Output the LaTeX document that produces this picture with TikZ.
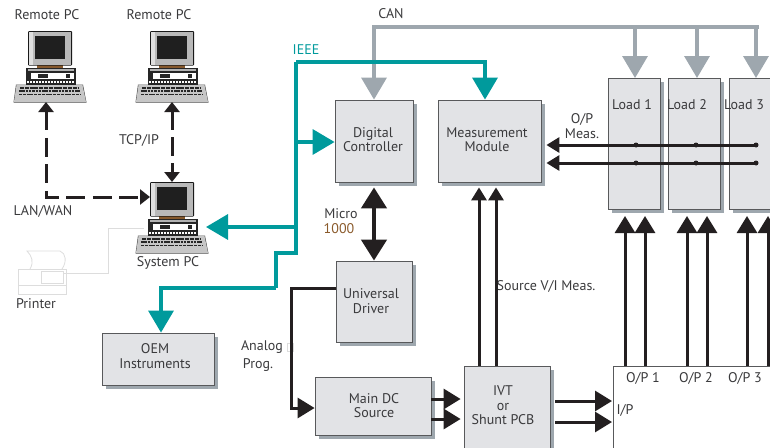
\documentclass[tikz,border=0pt]{standalone}
\usepackage{fontspec}
\setmainfont{PT Sans}
\usetikzlibrary{arrows.meta,shadows}
\definecolor{boxfill}{HTML}{E2E3E6}
\definecolor{boxline}{HTML}{58595B}
\definecolor{boxshadow}{HTML}{9EA7AE}
\definecolor{ieeeteal}{HTML}{009A9C}
\definecolor{inkblack}{HTML}{231F20}
\definecolor{labelgray}{HTML}{3A3A3C}
\definecolor{microbrown}{HTML}{8A5A2B}
\definecolor{faintgray}{HTML}{DDDDDD}
\tikzset{
    box/.style={draw=boxline, line width=0.8pt, fill=boxfill, align=center, inner sep=0pt,
        drop shadow={shadow xshift=4pt, shadow yshift=-4pt, fill=boxshadow, opacity=1}},
    txt/.style={text=labelgray, font=\fontsize{14}{14.5}\selectfont, align=center, inner sep=0pt},
    canbus/.style={draw=boxshadow, line width=3.4pt, -{Triangle[width=25pt,length=22pt]}},
    ieeebus/.style={draw=ieeeteal, line width=3.4pt, -{Triangle[width=25pt,length=22pt]}},
    ieeeline/.style={draw=ieeeteal, line width=3.4pt},
    sigline/.style={draw=inkblack, line width=3pt, -{Triangle[width=20pt,length=17pt]}},
    measline/.style={draw=inkblack, line width=3pt, -{Triangle[width=15pt,length=13pt]}},
    dashline/.style={draw=inkblack, line width=3pt, dash pattern=on 19pt off 7.5pt,
        {Triangle[width=15pt,length=10pt]}-{Triangle[width=15pt,length=10pt]}},
    junction/.style={circle, fill=inkblack, inner sep=0pt, minimum size=5pt},
    computer/.pic={
        % keyboard, base, monitor
        \fill[black!70] (-14.5,71.5) -- (-12,53.5) -- (55,53.5) -- (58.5,71.5) -- cycle;
        \fill[gray!45] (-14,70.8) -- (-11.5,54.2) -- (54.5,54.2) -- (58,70.8) -- cycle;
        \draw[black!85, line width=1.3pt, dash pattern=on 4pt off .8pt] (-8,57) -- (50,57);
        \draw[black!85, line width=1.3pt, dash pattern=on 2.5pt off .8pt] (-9,60) -- (52,60);
        \draw[black!85, line width=1.3pt, dash pattern=on 3pt off .8pt] (-9,63.5) -- (53,63.5);
        \fill[black!85] (-2,37) rectangle (48,54);
        \fill[gray!60] (0,37.8) rectangle (46,40);
        \fill[white] (3,42) rectangle (46,48);
        \fill[black!85] (10,43) rectangle (20,47);
        \fill[black!85] (38,43) rectangle (42,47);
        \draw[white, line width=1.2pt, dash pattern=on 1.5pt off 1.5pt] (-1,51) -- (47,51);
        \fill[brown!70!black] (9,34) rectangle (35,37);
        \fill[black!90, rounded corners=1pt] (0,0) rectangle (44,34.5);
        \fill[gray!55] (1,1) rectangle (43,33.5);
        \fill[gray!25] (1,1) rectangle (5,33.5);
        \fill[black!88] (7,5) rectangle (37,28);
        \coordinate (-top) at (22,0);
        \coordinate (-left) at (0,15);
        \coordinate (-bottom) at (22,71);
    }
}
\begin{document}
\begin{tikzpicture}[x=1pt, y=-1pt]
    \useasboundingbox (0,0) rectangle (770,447);
    \clip (0,0) rectangle (770,447);

    \pic (pc1) at (28,31) {computer};
    \pic (pc2) at (150,31) {computer};
    \pic (sys) at (150,182) {computer};

    % printer
    \draw[faintgray, line width=0.8pt] (18,269) rectangle (66,294);
    \draw[faintgray, line width=0.8pt] (41,271) rectangle (63,283);
    \draw[faintgray, line width=0.8pt] (18,285) -- (66,285);
    \draw[faintgray, line width=0.8pt] (30,269) .. controls (34,262) and (32,256) .. (27,251) -- (60,251) .. controls (66,253) and (67,262) .. (62,269);
    \coordinate (printerport) at (64,273);
    \coordinate (sysport) at (144,228);
    \draw[faintgray, line width=0.8pt] (printerport) -| (108,228) -- (sysport);

    \node[box, minimum width=78pt, minimum height=82pt] (ctrl) at (374,141) {};
    \node[box, minimum width=103pt, minimum height=82pt] (meas) at (489.5,141) {};
    \node[box, minimum width=52pt, minimum height=131pt] (load1) at (634,143.5) {};
    \node[box, minimum width=52pt, minimum height=131pt] (load2) at (694,143.5) {};
    \node[box, minimum width=52pt, minimum height=131pt] (load3) at (755,143.5) {};
    \node[box, minimum width=76pt, minimum height=81pt] (driver) at (374,301.5) {};
    \node[box, minimum width=116pt, minimum height=58pt] (source) at (373,406) {};
    \node[box, minimum width=86pt, minimum height=84pt] (ivt) at (507,408) {};
    \node[box, minimum width=112pt, minimum height=52pt] (oem) at (158,359) {};
    \node[draw=boxline, line width=0.8pt, fill=white, anchor=north west, minimum width=200pt, minimum height=120pt] (opbox) at (613,366) {};

    \node[txt] (remote1) at (47,15) {Remote PC};
    \node[txt] (remote2) at (159,15) {Remote PC};
    \node[txt] (tcpip) at (139,140) {TCP/IP};
    \node[txt] (lanwan) at (43,211) {LAN/WAN};
    \node[txt] (syspc) at (168,263) {System PC};
    \node[txt] (printer) at (36,304) {Printer};
    \node[txt] (can) at (391,14) {CAN};
    \node[txt, text=ieeeteal] (ieee) at (306,50) {IEEE};
    \node[txt] (ctrltxt) at (373,139.5) {Digital\\Controller};
    \node[txt] (meastxt) at (487,139.5) {Measurement\\Module};
    \node[txt] (load1txt) at (632,105) {Load 1};
    \node[txt] (load2txt) at (687,105) {Load 2};
    \node[txt] (load3txt) at (744,105) {Load 3};
    \node[txt] (opmeas) at (582,126) {O/P\\Meas.};
    \node[txt] (micro) at (341,214) {Micro};
    \node[txt, text=microbrown] (thousand) at (339,229) {1000};
    \node[txt] (drivertxt) at (371,301) {Universal\\Driver};
    \node[txt] (sourcevi) at (546,286) {Source V/I Meas.};
    \node[txt] (oemtxt) at (155,356) {OEM\\Instruments};
    \node[txt] (analog) at (262,347) {Analog};
    \node[draw=faintgray, line width=0.5pt, minimum width=6pt, minimum height=8pt, inner sep=0pt] (analogbox) at (290,347) {};
    \node[txt] (prog) at (258,365) {Prog.};
    \node[txt] (sourcetxt) at (374,405.5) {Main DC\\Source};
    \node[txt] (ivttxt) at (503,405.5) {IVT\\or\\Shunt PCB};
    \node[txt] (op1) at (643,378) {O/P 1};
    \node[txt] (op2) at (696,378) {O/P 2};
    \node[txt] (op3) at (745,378) {O/P 3};
    \node[txt] (ip) at (625,410) {I/P};

    % CAN
    \coordinate (cantop) at (759,27);
    \draw[canbus] (cantop) -- (374,27) -- (ctrl.north);
    \draw[canbus] (635,27) -- (635,78);
    \draw[canbus] (697,27) -- (697,78);
    \draw[canbus] (756,27) -- (756,78);

    % IEEE
    \coordinate (ieeetop) at (296,62);
    \coordinate (ieeestep) at (296,253);
    \coordinate (ieeelow) at (276,288);
    \coordinate (ieeectrl) at (296,142);
    \coordinate (ieeesys) at (296,227);
    \coordinate (systip) at (206,227);
    \draw[ieeeline, line join=miter] (ieeetop) -- (ieeestep) -| (ieeelow);
    \draw[ieeebus] (ieeetop) -| ([xshift=-4.5pt]meas.north);
    \draw[ieeebus] (ieeectrl) -- (ctrl.west |- ieeectrl);
    \draw[ieeebus] (ieeesys) -- (systip);
    \draw[ieeebus] (ieeelow) -| ([xshift=3pt]oem.north);

    % LAN
    \draw[dashline] ([xshift=-4pt]pc1-bottom) |- (sys-left);
    \draw[dashline, dash pattern=on 19pt off 7pt] (pc2-bottom) -- (sys-top);

    % micro link
    \draw[draw=inkblack, line width=4.5pt, {Triangle[width=25pt,length=21pt]}-{Triangle[width=25pt,length=21pt]}, shorten <=5pt] (ctrl.south) -- (driver.north);

    % analog
    \coordinate (analogcorner) at (291,288);
    \draw[sigline] (driver.west |- analogcorner) -- (analogcorner) |- (source.west |- 0,408);

    \draw[sigline, shorten >=3pt] (source.east |- 0,399) -- (ivt.west |- 0,399);
    \draw[sigline, shorten >=3pt] (source.east |- 0,419) -- (ivt.west |- 0,419);
    \draw[sigline, shorten >=1pt] (555,401) -- (opbox.west |- 0,401);
    \draw[sigline, shorten >=1pt] (555,422) -- (opbox.west |- 0,422);

    \draw[measline, shorten >=5pt] ([xshift=-28pt]ivt.north) -- ([xshift=-28pt]ivt.north |- meas.south);
    \draw[measline, shorten >=5pt] ([xshift=-11pt]ivt.north) -- ([xshift=-11pt]ivt.north |- meas.south);

    \draw[sigline, shorten >=7pt] (625,366) -- (625,209);
    \draw[sigline, shorten >=7pt] (645,366) -- (645,209);
    \draw[sigline, shorten >=7pt] (687,366) -- (687,209);
    \draw[sigline, shorten >=7pt] (707,366) -- (707,209);
    \draw[sigline, shorten >=7pt] (747,366) -- (747,209);
    \draw[sigline, shorten >=7pt] (768,366) -- (768,209);

    % O/P meas
    \coordinate (meas1) at (756,145);
    \coordinate (meas2) at (756,163);
    \draw[measline, shorten >=5pt] (meas1) -- (meas.east |- meas1);
    \draw[measline, shorten >=5pt] (meas2) -- (meas.east |- meas2);
    \node[junction] (j11) at (636,145) {};
    \node[junction] (j12) at (696,145) {};
    \node[junction] (j13) at (756,145) {};
    \node[junction] (j21) at (636,163) {};
    \node[junction] (j22) at (696,163) {};
    \node[junction] (j23) at (756,163) {};
\end{tikzpicture}
\end{document}
